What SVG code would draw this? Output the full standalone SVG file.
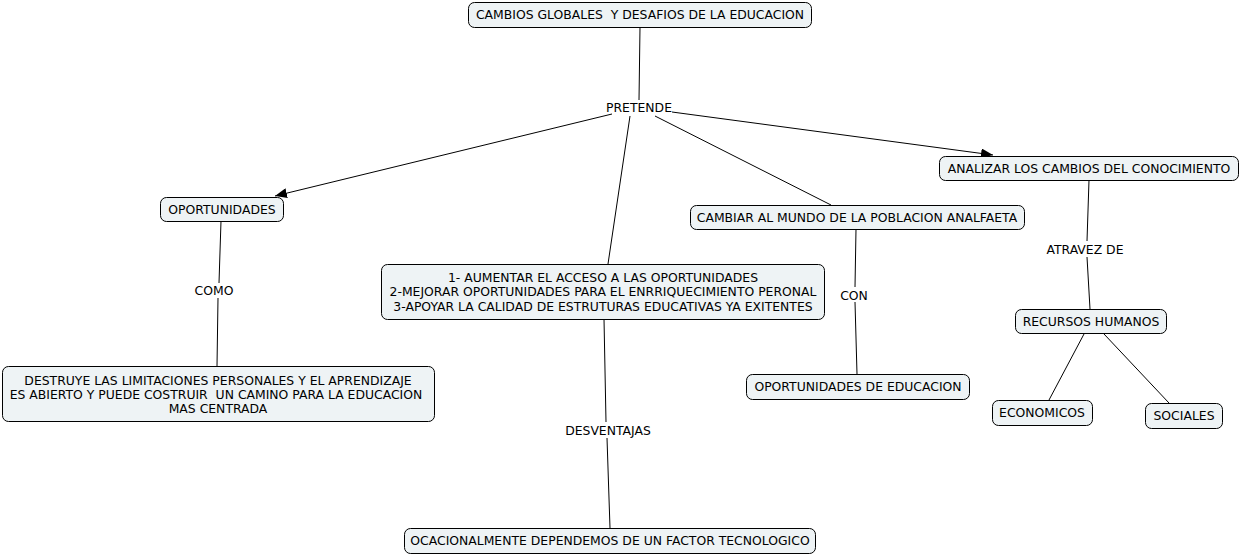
<svg xmlns="http://www.w3.org/2000/svg" width="1240" height="555" viewBox="0 0 1240 555">
<defs>
<marker id="arr" viewBox="0 0 12 10" refX="12" refY="5" markerWidth="12" markerHeight="10" markerUnits="userSpaceOnUse" orient="auto">
<path d="M0,0 L12,5 L0,10 z" fill="#000"/>
</marker>
</defs>
<style>
.n rect{fill:#eef3f5;stroke:#000;stroke-width:1}
text{font-family:"DejaVu Sans",Verdana,sans-serif;font-size:12.4px;fill:#000;text-anchor:middle;dominant-baseline:central;white-space:pre}
.c line{stroke:#000;stroke-width:1;fill:none}
</style>
<rect width="1240" height="555" fill="#fff"/>
<g class="c" id="connectors">
<line x1="640" y1="27" x2="639" y2="100"/>
<line x1="612" y1="114" x2="275" y2="196" marker-end="url(#arr)"/>
<line x1="672" y1="112" x2="993" y2="155" marker-end="url(#arr)"/>
<line x1="630" y1="116" x2="608" y2="264"/>
<line x1="655" y1="116" x2="831" y2="205"/>
<line x1="221" y1="221" x2="219" y2="283"/>
<line x1="218" y1="298" x2="217" y2="366"/>
<line x1="604" y1="319" x2="606" y2="422"/>
<line x1="607" y1="438" x2="610" y2="528"/>
<line x1="856" y1="229" x2="855" y2="287"/>
<line x1="855" y1="302" x2="857" y2="374"/>
<line x1="1089" y1="180" x2="1087" y2="241"/>
<line x1="1087" y1="257" x2="1090" y2="309"/>
<line x1="1084" y1="334" x2="1049" y2="400"/>
<line x1="1104" y1="334" x2="1169" y2="403"/>
</g>
<g id="labels">
<text x="639" y="107">PRETENDE</text>
<text x="214" y="290">COMO</text>
<text x="608" y="430">DESVENTAJAS</text>
<text x="854" y="295">CON</text>
<text x="1085" y="249">ATRAVEZ DE</text>
</g>
<g class="n" id="n-top"><rect x="468.5" y="2.5" width="343" height="25" rx="6"/><text x="640" y="14.5">CAMBIOS GLOBALES  Y DESAFIOS DE LA EDUCACION</text></g>
<g class="n" id="n-oport"><rect x="160.5" y="197.5" width="123" height="24" rx="6"/><text x="222" y="209">OPORTUNIDADES</text></g>
<g class="n" id="n-central"><rect x="381.5" y="264.5" width="443" height="55" rx="6"/><text x="603" y="277">1- AUMENTAR EL ACCESO A LAS OPORTUNIDADES</text><text x="603" y="291">2-MEJORAR OPORTUNIDADES PARA EL ENRRIQUECIMIENTO PERONAL</text><text x="603" y="306">3-APOYAR LA CALIDAD DE ESTRUTURAS EDUCATIVAS YA EXITENTES</text></g>
<g class="n" id="n-analizar"><rect x="939.5" y="156.5" width="299" height="24" rx="6"/><text x="1089" y="168">ANALIZAR LOS CAMBIOS DEL CONOCIMIENTO</text></g>
<g class="n" id="n-cambiar"><rect x="690.5" y="205.5" width="334" height="24" rx="6"/><text x="857" y="217">CAMBIAR AL MUNDO DE LA POBLACION ANALFAETA</text></g>
<g class="n" id="n-destruye"><rect x="2.5" y="366.5" width="432" height="55" rx="6"/><text x="218" y="380">DESTRUYE LAS LIMITACIONES PERSONALES Y EL APRENDIZAJE</text><text x="216" y="394">ES ABIERTO Y PUEDE COSTRUIR  UN CAMINO PARA LA EDUCACION</text><text x="218" y="408">MAS CENTRADA</text></g>
<g class="n" id="n-opedu"><rect x="746.5" y="374.5" width="223" height="25" rx="6"/><text x="858" y="386.5">OPORTUNIDADES DE EDUCACION</text></g>
<g class="n" id="n-recursos"><rect x="1015.5" y="309.5" width="151" height="24" rx="6"/><text x="1091" y="321.5">RECURSOS HUMANOS</text></g>
<g class="n" id="n-econ"><rect x="992.5" y="400.5" width="100" height="25" rx="6"/><text x="1042" y="412.5">ECONOMICOS</text></g>
<g class="n" id="n-soc"><rect x="1145.5" y="403.5" width="77" height="25" rx="6"/><text x="1184" y="415.5">SOCIALES</text></g>
<g class="n" id="n-ocas"><rect x="404.5" y="528.5" width="411" height="25" rx="6"/><text x="610" y="540.5">OCACIONALMENTE DEPENDEMOS DE UN FACTOR TECNOLOGICO</text></g>
</svg>
